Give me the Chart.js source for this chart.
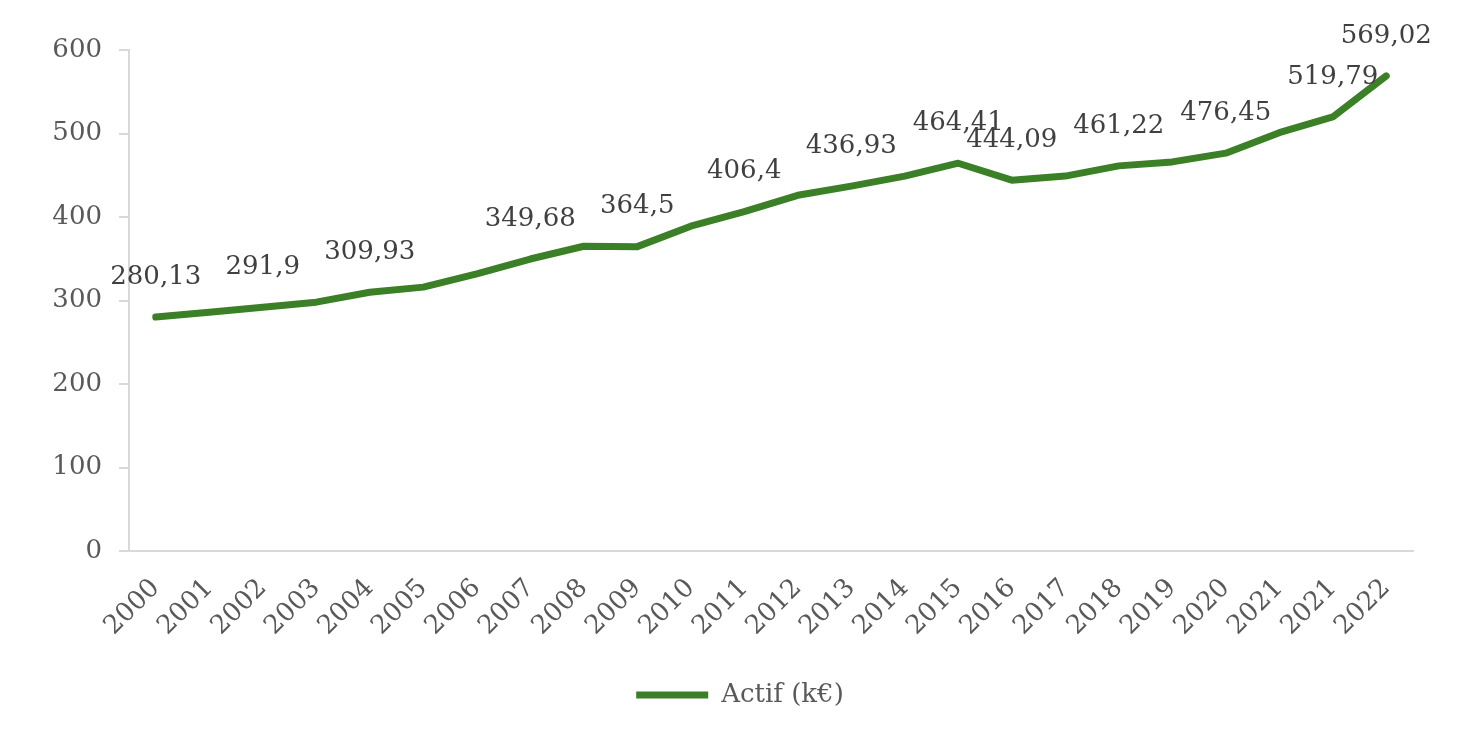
<!DOCTYPE html>
<html>
<head>
<meta charset="utf-8">
<script src="https://cdn.jsdelivr.net/npm/chart.js@4.4.1/dist/chart.umd.min.js"></script>
<style>
  html, body { margin: 0; padding: 0; background: #ffffff; }
  #wrap { width: 1480px; height: 736px; position: relative; }
</style>
</head>
<body>
<div id="wrap"><canvas id="c" width="1480" height="736"></canvas></div>
<script>
// ---- Data ----
const categories = ['2000','2001','2002','2003','2004','2005','2006','2007','2008','2009','2010',
  '2011','2012','2013','2014','2015','2016','2017','2018','2019','2020','2021','2021','2022'];
const actif = [280.13, 286, 291.9, 298, 309.93, 316, 332, 349.68, 365, 364.5, 389,
  406.4, 426, 436.93, 449, 464.41, 444.09, 449, 461.22, 466, 476.45, 501, 519.79, 569.02];
const pointLabels = ['280,13', null, '291,9', null, '309,93', null, null, '349,68', null, '364,5', null,
  '406,4', null, '436,93', null, '464,41', '444,09', null, '461,22', null, '476,45', null, '519,79', '569,02'];
const yTicks = [0, 100, 200, 300, 400, 500, 600];
const seriesName = 'Actif (k€)';

const FONT = "'DejaVu Serif', 'Liberation Serif', serif";
const GREEN = '#3b7f26';

const dataLabelPlugin = {
  id: 'dataLabels',
  afterDatasetsDraw(chart) {
    const ctx = chart.ctx;
    const meta = chart.getDatasetMeta(0);
    ctx.save();
    ctx.font = "26px " + FONT;
    ctx.fillStyle = '#404040';
    ctx.textAlign = 'center';
    ctx.textBaseline = 'middle';
    meta.data.forEach((pt, i) => {
      const txt = pointLabels[i];
      if (!txt) return;
      ctx.fillText(txt, pt.x, pt.y - 40);
    });
    ctx.restore();
  }
};

new Chart(document.getElementById('c'), {
  type: 'line',
  data: {
    labels: categories,
    datasets: [{
      label: seriesName,
      data: actif,
      borderColor: GREEN,
      backgroundColor: GREEN,
      borderWidth: 7,
      borderCapStyle: 'round',
      borderJoinStyle: 'round',
      pointRadius: 0,
      tension: 0,
      fill: false
    }]
  },
  options: {
    responsive: false,
    animation: false,
    layout: { padding: { left: 0, right: 0, top: 50, bottom: 18 } },
    scales: {
      x: {
        offset: true,
        grid: { display: false, drawTicks: false },
        border: { display: true, color: '#d9d9d9', width: 2 },
        ticks: {
          autoSkip: false,
          minRotation: 45,
          maxRotation: 45,
          padding: 22,
          color: '#595959',
          font: { family: FONT, size: 26 }
        },
        afterFit(scale) { scale.height = 121; }
      },
      y: {
        min: 0,
        max: 600,
        afterBuildTicks(scale) { scale.ticks = yTicks.map(v => ({ value: v })); },
        grid: { display: true, drawOnChartArea: false, drawTicks: true, tickLength: 10, color: '#d9d9d9', lineWidth: 2 },
        border: { display: true, color: '#d9d9d9', width: 2 },
        ticks: {
          padding: 17,
          color: '#595959',
          font: { family: FONT, size: 26 }
        },
        afterFit(scale) { scale.width = 129; }
      },
      ySpacer: {
        position: 'right',
        display: true,
        min: 0,
        max: 600,
        grid: { display: false, drawTicks: false },
        border: { display: false },
        ticks: { display: false },
        afterFit(scale) { scale.width = 67; }
      }
    },
    plugins: {
      tooltip: { enabled: false },
      legend: {
        position: 'bottom',
        labels: {
          boxWidth: 72,
          boxHeight: 7,
          color: '#595959',
          font: { family: FONT, size: 26 },
          generateLabels(chart) {
            const ds = chart.data.datasets[0];
            return [{
              text: ds.label,
              fillStyle: GREEN,
              strokeStyle: GREEN,
              lineWidth: 0,
              fontColor: '#595959',
              datasetIndex: 0,
              hidden: false
            }];
          }
        }
      }
    }
  },
  plugins: [dataLabelPlugin]
});
</script>
</body>
</html>
